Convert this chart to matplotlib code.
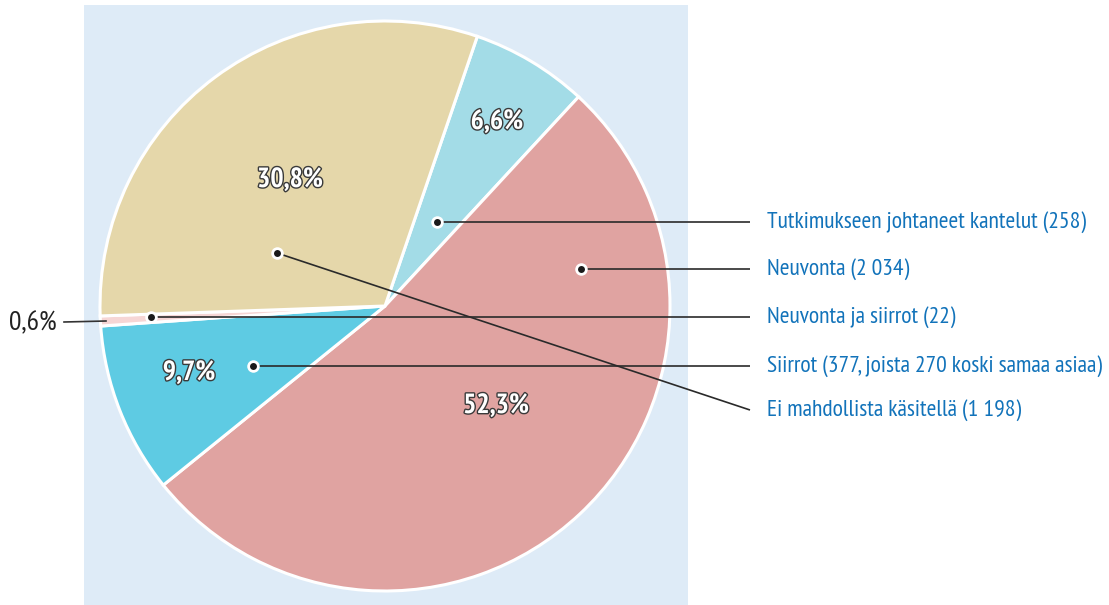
import matplotlib
matplotlib.use("Agg")
import matplotlib.pyplot as plt
import matplotlib.patheffects as pe
from matplotlib.patches import Rectangle

# ---- data ----
categories = [
    "Tutkimukseen johtaneet kantelut (258)",
    "Neuvonta (2 034)",
    "Neuvonta ja siirrot (22)",
    "Siirrot (377, joista 270 koski samaa asiaa)",
    "Ei mahdollista käsitellä (1 198)",
]
counts = [258, 2034, 22, 377, 1198]
pct_labels = ["6,6%", "52,3%", "0,6%", "9,7%", "30,8%"]
# clockwise order of the slices in the pie (indices into the lists above)
pie_order = [0, 1, 3, 2, 4]

# ---- style / layout ----
colors = ["#a3dce7", "#e0a3a1", "#f6d6d5", "#5ecbe3", "#e5d7aa"]
W, H = 1109, 605
FONT = ["PT Sans Narrow", "DejaVu Sans"]
center_px = (385, 306)
radius_px = 285
pct_pos = [(497, 122), (496, 406), None, (189, 373), (290, 180)]
dot_pos = [(437, 222), (581, 269), (151, 317), (253, 366), (277, 253)]
label_y = [222, 269, 317, 366, 410]
line_end_x = 750
text_x = 767
label_color = "#1273ba"


def Y(y):
    return H - y


fig = plt.figure(figsize=(W / 100, H / 100), dpi=100)
ax = fig.add_axes([0, 0, 1, 1])

ax.add_patch(Rectangle((84, 0), 688 - 84, H - 5, facecolor="#deebf7",
                       edgecolor="none", zorder=0))

ax.pie([counts[i] for i in pie_order], colors=[colors[i] for i in pie_order],
       startangle=71.1, counterclock=False,
       center=(center_px[0], Y(center_px[1])), radius=radius_px,
       wedgeprops=dict(edgecolor="white", linewidth=2.2), frame=True)
ax.set_xlim(0, W)
ax.set_ylim(0, H)
ax.set_aspect("equal")
ax.axis("off")

stroke = [pe.withStroke(linewidth=2.0, foreground="#3a3a3a")]
for lab, pos in zip(pct_labels, pct_pos):
    if pos is None:
        continue
    ax.text(pos[0], Y(pos[1]), lab, ha="center", va="center", color="white",
            fontsize=20, fontweight="bold", family=FONT, path_effects=stroke,
            zorder=5)

# small slice label outside
ax.text(57, Y(323), pct_labels[2], ha="right", va="center", color="#222222",
        fontsize=20, family=FONT, zorder=5)
ax.plot([64, 106], [Y(322), Y(321)], color="#333333", lw=1.2, zorder=4)

# leader lines, dots, and labels
for cat, (dx, dy), ly in zip(categories, dot_pos, label_y):
    ax.plot([dx, line_end_x], [Y(dy), Y(ly)], color="#2a2a2a", lw=1.2,
            zorder=4, solid_capstyle="butt")
    ax.plot(dx, Y(dy), "o", ms=9, mfc="white", mec="none", zorder=6)
    ax.plot(dx, Y(dy), "o", ms=5, mfc="#1a1a1a", mec="none", zorder=7)
    ax.text(text_x, Y(ly), cat, ha="left", va="center", color=label_color,
            fontsize=17, family=FONT, zorder=5)

fig.savefig("out.png", dpi=100)
